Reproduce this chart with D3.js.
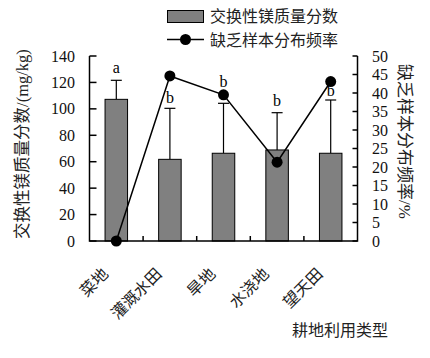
<!DOCTYPE html>
<html><head><meta charset="utf-8">
<script src="https://cdn.jsdelivr.net/npm/d3@7"></script>
<style>body{margin:0;background:#fff}</style>
</head><body>
<svg id="c" width="430" height="358"></svg>
<script>
const categories = ["菜地","灌溉水田","旱地","水浇地","望天田"];
const mgContent = [107.2, 61.8, 66.4, 68.9, 66.4];
const mgErrTop = [121.6, 100.4, 104.2, 97.1, 106.7];
const letters = ["a","b","b","b","b"];
const letterPos = [131, 109, 121, 106.5, 114];
const deficiency = [0, 44.6, 39.5, 21.3, 43.1];
const leftTicks = [0,20,40,60,80,100,120,140];
const rightTicks = [0,5,10,15,20,25,30,35,40,45,50];
const seriesNames = ["交换性镁质量分数","缺乏样本分布频率"];

const FONT = "'Liberation Serif','Noto Sans CJK SC',serif";
const svg = d3.select("#c").style("font-family", FONT);
const L = 89.5, R = 357.5, T = 56, B = 241;
const x = d3.scaleBand().domain(categories).range([L, R]).padding(0);
const yL = d3.scaleLinear().domain([0,140]).range([B, T]);
const yR = d3.scaleLinear().domain([0,50]).range([B, T]);
const bw = x.bandwidth()*0.42;

// bars
const g = svg.append("g");
categories.forEach((c,i)=>{
  const cx = x(c)+x.bandwidth()/2;
  g.append("line").attr("x1",cx).attr("x2",cx).attr("y1",yL(mgContent[i])).attr("y2",yL(mgErrTop[i])).attr("stroke","#000").attr("stroke-width",1.2);
  g.append("line").attr("x1",cx-5.5).attr("x2",cx+5.5).attr("y1",yL(mgErrTop[i])).attr("y2",yL(mgErrTop[i])).attr("stroke","#000").attr("stroke-width",1.2);
  g.append("rect").attr("x",cx-bw/2).attr("y",yL(mgContent[i])).attr("width",bw).attr("height",B-yL(mgContent[i]))
    .attr("fill","#808080").attr("stroke","#000").attr("stroke-width",1);
  g.append("text").attr("x",cx).attr("y",yL(letterPos[i])).attr("dy","0.35em").attr("text-anchor","middle")
    .attr("font-size",16).text(letters[i]);
});

// axes
const ax = svg.append("g").attr("stroke","#000").attr("stroke-width",1.5).attr("fill","none");
ax.append("path").attr("d",`M${L},${T}V${B}H${R}V${T}`);
leftTicks.forEach(t=>{ax.append("line").attr("x1",L).attr("x2",L+7).attr("y1",yL(t)).attr("y2",yL(t));});
rightTicks.forEach(t=>{ax.append("line").attr("x1",R).attr("x2",R-5).attr("y1",yR(t)).attr("y2",yR(t));});
categories.slice(1).forEach(c=>{ax.append("line").attr("x1",x(c)).attr("x2",x(c)).attr("y1",B).attr("y2",B-5);});

leftTicks.forEach(t=>{svg.append("text").attr("x",75).attr("y",yL(t)).attr("dy","0.35em").attr("text-anchor","end").attr("font-size",16).attr("fill","#111").text(t);});
rightTicks.forEach(t=>{svg.append("text").attr("x",372).attr("y",yR(t)).attr("dy","0.35em").attr("text-anchor","start").attr("font-size",16).attr("fill","#111").text(t);});

// line
const line = d3.line().x((d,i)=>x(categories[i])+x.bandwidth()/2).y(d=>yR(d));
svg.append("path").datum(deficiency).attr("d",line).attr("fill","none").attr("stroke","#000").attr("stroke-width",1.5);
deficiency.forEach((d,i)=>{svg.append("circle").attr("cx",x(categories[i])+x.bandwidth()/2).attr("cy",yR(d)).attr("r",5.5).attr("fill","#000");});

// category labels
categories.forEach(c=>{
  const cx = x(c)+x.bandwidth()/2;
  svg.append("text").attr("transform",`translate(${cx-7},${275}) rotate(-45)`).attr("text-anchor","end")
    .attr("font-size",16).attr("fill","#222").text(c);
});

// axis titles
svg.append("text").attr("transform",`translate(28,${144}) rotate(-90)`).attr("text-anchor","middle").attr("font-size",16.5).attr("fill","#222").text("交换性镁质量分数/(mg/kg)");
svg.append("text").attr("transform",`translate(399,${141.5}) rotate(90)`).attr("text-anchor","middle").attr("font-size",17).attr("fill","#222").text("缺乏样本分布频率/%");
svg.append("text").attr("x",340).attr("y",330).attr("dy","0.35em").attr("text-anchor","middle").attr("font-size",16).attr("fill","#222").text("耕地利用类型");

// legend
svg.append("rect").attr("x",167.5).attr("y",10.5).attr("width",36).attr("height",12).attr("fill","#808080").attr("stroke","#000");
svg.append("text").attr("x",210).attr("y",16.5).attr("dy","0.35em").attr("font-size",16).attr("fill","#222").text(seriesNames[0]);
svg.append("line").attr("x1",167).attr("x2",204).attr("y1",39.5).attr("y2",39.5).attr("stroke","#000").attr("stroke-width",1.5);
svg.append("circle").attr("cx",185.5).attr("cy",39.5).attr("r",5.5).attr("fill","#000");
svg.append("text").attr("x",210).attr("y",40).attr("dy","0.35em").attr("font-size",16).attr("fill","#222").text(seriesNames[1]);
</script>
</body></html>
